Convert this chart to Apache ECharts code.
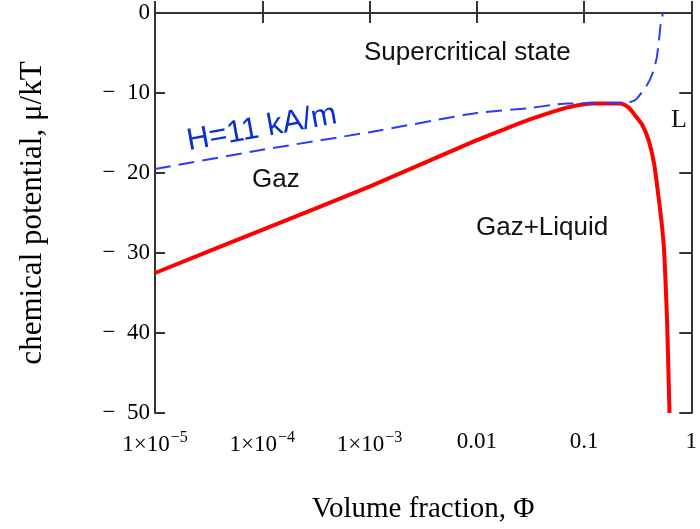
<!DOCTYPE html>
<html>
<head>
<meta charset="utf-8">
<script src="https://cdn.jsdelivr.net/npm/echarts@6/dist/echarts.min.js"></script>
<style>html,body{margin:0;padding:0;background:#fff}#c{width:700px;height:529px}</style>
</head>
<body>
<div id="c"></div>
<script>
// Coexistence curve (red)
const redX = [1e-5, 1e-4, 1e-3, 1e-2, 0.02, 0.03, 0.05, 0.07, 0.1, 0.12, 0.22, 0.26, 0.30, 0.35, 0.40, 0.45, 0.50, 0.53, 0.555, 0.575, 0.596, 0.618, 0.627];
const redY = [-32.5, -27.1, -21.7, -15.9, -14.3, -13.4, -12.4, -11.8, -11.4, -11.3, -11.3, -11.8, -12.8, -14.0, -15.9, -18.8, -23.4, -26.3, -29.2, -33.4, -38.75, -46.75, -50];
// Field curve H = 11 kA/m (blue dashed)
const blueX = [1e-5, 1e-4, 1e-3, 1e-2, 0.03, 0.05, 0.07, 0.24, 0.30, 0.32, 0.38, 0.43, 0.475, 0.50, 0.52, 0.545];
const blueY = [-19.5, -17.1, -14.9, -12.5, -11.9, -11.5, -11.3, -11.3, -10.9, -10.5, -9.2, -7.75, -5.7, -3.4, -1.3, 0];
// Tick labels
const xTickLabels = ['1×10{sup|−5}', '1×10{sup|−4}', '1×10{sup|−3}', '0.01', '0.1', '1'];
const yTicks = [0, -10, -20, -30, -40, -50];
const yTickLabels = ['0', '−  10', '−  20', '−  30', '−  40', '−  50'];

const frame = '#333333';
const serif = '"Liberation Serif", "DejaVu Serif", serif';
const sans = '"Liberation Sans", Arial, sans-serif';

const chart = echarts.init(document.getElementById('c'));
const grid = { left: 155, right: 6, top: 13, bottom: 116 };

function xLabel(v) {
  const e = Math.round(Math.log10(v));
  return xTickLabels[e + 5] || '';
}
function yLabel(v) {
  const i = yTicks.indexOf(Math.round(v));
  return i >= 0 ? yTickLabels[i] : '';
}

chart.setOption({
  animation: false,
  grid: grid,
  xAxis: [{
    type: 'log', logBase: 10, min: 1e-5, max: 1, interval: 1,
    position: 'bottom',
    name: 'Volume fraction, Φ', nameLocation: 'middle', nameGap: 82,
    nameTextStyle: { fontFamily: serif, fontSize: 29, color: '#000' },
    axisLine: { show: true, lineStyle: { color: frame, width: 2 } },
    axisTick: { show: true, inside: true, length: 12, lineStyle: { color: frame, width: 2 } },
    minorTick: { show: false },
    splitLine: { show: false },
    axisLabel: {
      margin: 17, color: '#000', fontFamily: serif, fontSize: 23,
      showMaxLabel: true, showMinLabel: true,
      formatter: xLabel,
      rich: { sup: { fontFamily: serif, fontSize: 16, color: '#000', verticalAlign: 'bottom', padding: [0, 0, 13, 1] } }
    }
  }, {
    type: 'log', logBase: 10, min: 1e-5, max: 1, interval: 1,
    position: 'top',
    axisLine: { show: true, lineStyle: { color: frame, width: 2 } },
    axisTick: { show: true, inside: true, length: 10, lineStyle: { color: frame, width: 2 } },
    axisLabel: { show: false },
    splitLine: { show: false }
  }],
  yAxis: [{
    type: 'value', min: -50, max: 0, interval: 10,
    position: 'left',
    name: 'chemical potential, μ/kT', nameLocation: 'middle', nameGap: 107,
    nameTextStyle: { fontFamily: serif, fontSize: 31, color: '#000' },
    axisLine: { show: true, lineStyle: { color: frame, width: 2 } },
    axisTick: { show: true, inside: true, length: 10, lineStyle: { color: frame, width: 2 } },
    splitLine: { show: false },
    axisLabel: { margin: 5, color: '#000', fontFamily: serif, fontSize: 23, formatter: yLabel }
  }, {
    type: 'value', min: -50, max: 0, interval: 10,
    position: 'right',
    axisLine: { show: true, lineStyle: { color: frame, width: 2 } },
    axisTick: { show: true, inside: true, length: 12, lineStyle: { color: frame, width: 2 } },
    axisLabel: { show: false },
    splitLine: { show: false }
  }],
  series: [{
    type: 'line', name: 'coexistence', xAxisIndex: 0, yAxisIndex: 0,
    data: redX.map((x, i) => [x, redY[i]]),
    showSymbol: false, symbol: 'none', smooth: 0.2, z: 2,
    lineStyle: { color: '#ff0000', width: 4 }
  }, {
    type: 'line', name: 'H=11 kA/m', xAxisIndex: 0, yAxisIndex: 0,
    data: blueX.map((x, i) => [x, blueY[i]]),
    showSymbol: false, symbol: 'none', smooth: 0.2, z: 3,
    lineStyle: { color: '#2a3cff', width: 2, type: [16, 8] }
  }],
  graphic: [
    { type: 'text', left: 364, top: 40, style: { text: 'Supercritical state', font: '26px ' + sans, fill: '#111' } },
    { type: 'text', left: 252, top: 167, style: { text: 'Gaz', font: '26px ' + sans, fill: '#111' } },
    { type: 'text', left: 476, top: 215, style: { text: 'Gaz+Liquid', font: '26px ' + sans, fill: '#111' } },
    { type: 'text', left: 671, top: 107, style: { text: 'L', font: '26px ' + serif, fill: '#111' } },
    { type: 'text', x: 190, y: 157, rotation: 0.18, style: { text: 'H=11 kA/m', font: '31px ' + sans, fill: '#0a30d0', textVerticalAlign: 'bottom' } }
  ]
});
</script>
</body>
</html>
